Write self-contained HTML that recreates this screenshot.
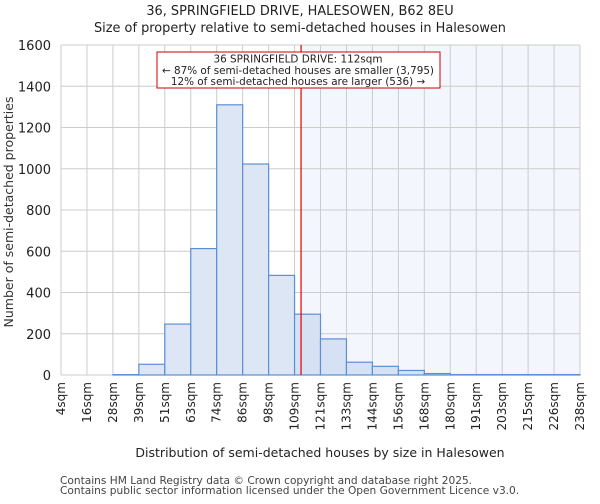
<!DOCTYPE html>
<html><head><meta charset="utf-8"><style>
body{margin:0;background:#fff;font-family:"DejaVu Sans","Liberation Sans",sans-serif;}
svg text{font-family:"DejaVu Sans","Liberation Sans",sans-serif;}
</style></head><body>
<svg id="c" width="600" height="500" xmlns="http://www.w3.org/2000/svg">
<text x="300" y="15" text-anchor="middle" font-size="12.9" fill="#222">36, SPRINGFIELD DRIVE, HALESOWEN, B62 8EU</text>
<text x="300" y="32" text-anchor="middle" font-size="12.9" fill="#222">Size of property relative to semi-detached houses in Halesowen</text>
<g id="plot"></g>
<text transform="translate(13,212) rotate(-90)" text-anchor="middle" font-size="12.5" fill="#333">Number of semi-detached properties</text>
<text x="320" y="457" text-anchor="middle" font-size="12.5" fill="#222">Distribution of semi-detached houses by size in Halesowen</text>
<text x="60" y="484" font-size="10.6" fill="#444">Contains HM Land Registry data © Crown copyright and database right 2025.</text>
<text x="60" y="494" font-size="10.6" fill="#444">Contains public sector information licensed under the Open Government Licence v3.0.</text>
</svg>
<script>
const binLabels=["4sqm","16sqm","28sqm","39sqm","51sqm","63sqm","74sqm","86sqm","98sqm","109sqm","121sqm","133sqm","144sqm","156sqm","168sqm","180sqm","191sqm","203sqm","215sqm","226sqm","238sqm"];
const counts=[0,0,2,52,247,613,1310,1023,483,295,175,62,42,22,7,2,2,2,2,2];
const yTicks=[0,200,400,600,800,1000,1200,1400,1600];
const propertyBin=9.25;
const NS="http://www.w3.org/2000/svg";
const L=61,R=580,T=45,B=375,yMax=1600;
const nb=counts.length;
const xs=i=>L+i*(R-L)/nb;
const ys=v=>B-v/yMax*(B-T);
const g=document.getElementById('plot');
function mk(t,a){const e=document.createElementNS(NS,t);for(const k in a)e.setAttribute(k,a[k]);g.appendChild(e);return e;}
const mx=xs(propertyBin);
let e=mk('rect',{x:mx,y:T,width:R-mx,height:B-T,fill:'#f3f6fd'});


for(let i=0;i<=nb;i++){e=mk('line',{x1:xs(i),x2:xs(i),y1:T,y2:B,stroke:'#ccc','stroke-width':1});

}
yTicks.forEach(v=>{e=mk('line',{x1:L,x2:R,y1:ys(v),y2:ys(v),stroke:'#ccc','stroke-width':1});


e=mk('text',{x:L-10,y:ys(v)+5,'text-anchor':'end','font-size':13,fill:'#222'});e.textContent=v;

});
counts.forEach((c,i)=>{if(c<=0)return;e=mk('rect',{x:xs(i),y:ys(c),width:xs(i+1)-xs(i),height:B-ys(c),fill:i>=9?'#d6e2f3':'#dde6f4',stroke:'#5b8fd6','stroke-width':1.2});

});
binLabels.forEach((s,i)=>{e=mk('text',{transform:`translate(${xs(i)+4},382) rotate(-90)`,'text-anchor':'end','font-size':12,fill:'#222'});e.textContent=s;

});
e=mk('line',{x1:mx,x2:mx,y1:T,y2:B,stroke:'#d00','stroke-width':1.2});


e=mk('rect',{x:157,y:52,width:283,height:36,fill:'#fff',stroke:'#c00','stroke-width':1});


["36 SPRINGFIELD DRIVE: 112sqm","← 87% of semi-detached houses are smaller (3,795)","12% of semi-detached houses are larger (536) →"].forEach((t,k)=>{e=mk('text',{x:298,y:62.5+k*11.3,'text-anchor':'middle','font-size':10.4,fill:'#222'});e.textContent=t;

});
</script>
</body></html>
